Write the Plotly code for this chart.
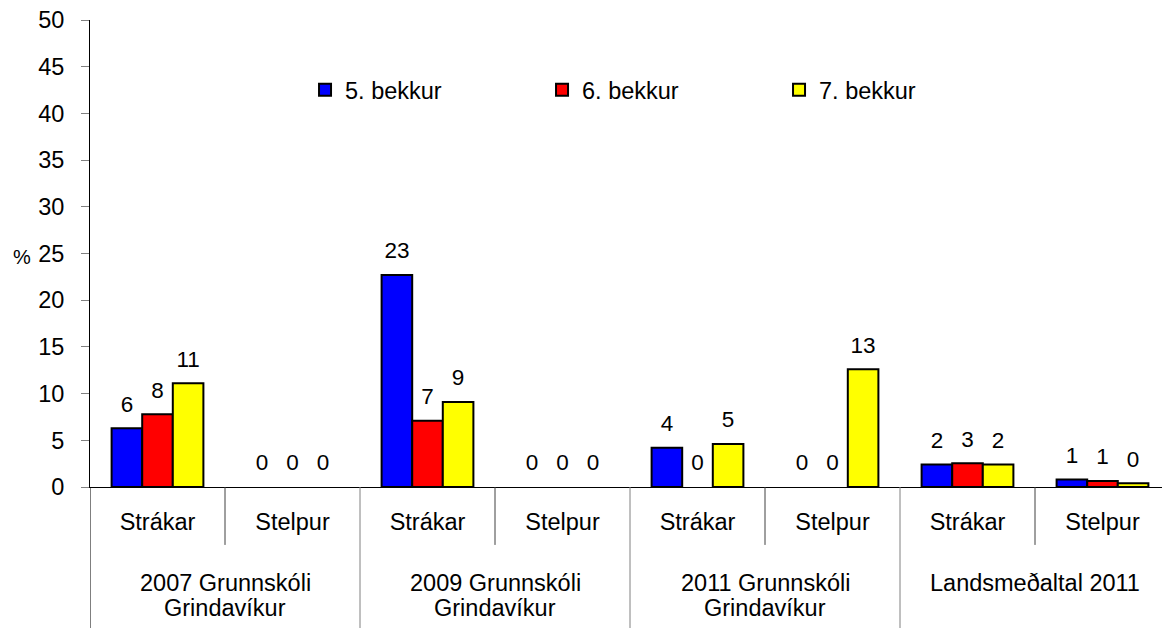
import plotly.graph_objects as go

# hierarchical categories: group -> (Strákar, Stelpur)
group_line1 = ["2007 Grunnskóli", "2009 Grunnskóli", "2011 Grunnskóli", "Landsmeðaltal 2011"]
group_line2 = ["Grindavíkur", "Grindavíkur", "Grindavíkur", ""]
sub_labels = ["Strákar", "Stelpur"] * 4

bekkur_5 = [6.3, 0, 22.7, 0, 4.2, 0, 2.4, 0.8]
bekkur_6 = [7.8, 0, 7.1, 0, 0, 0, 2.55, 0.65]
bekkur_7 = [11.1, 0, 9.1, 0, 4.6, 12.6, 2.4, 0.4]

series = [("5. bekkur", bekkur_5, "#0000FF"),
          ("6. bekkur", bekkur_6, "#FF0000"),
          ("7. bekkur", bekkur_7, "#FFFF00")]

FONT = "Liberation Sans, Arial, sans-serif"
x = list(range(len(sub_labels)))

fig = go.Figure()
for i, (name, vals, color) in enumerate(series):
    # zero bars are not drawn at all (no outline on the axis)
    fig.add_trace(go.Bar(
        x=x, y=[v if v > 0 else None for v in vals], name=name, offsetgroup=str(i),
        marker=dict(color=color, line=dict(color="black", width=2)),
    ))
    # value labels, grouped like the bars, lifted a bit above the bar top
    fig.add_trace(go.Scatter(
        x=x, y=vals, mode="markers+text", offsetgroup=str(i),
        text=[str(int(v + 0.5)) for v in vals],
        textposition="top center",
        textfont=dict(size=22.5, color="black", family=FONT),
        marker=dict(size=16, opacity=0),
        showlegend=False, hoverinfo="skip", cliponaxis=False,
    ))

shapes = []
# left axis line continues down through the label area
shapes.append(dict(type="line", xref="x", yref="paper", x0=-0.5, x1=-0.5,
                   y0=0, y1=-0.31, line=dict(color="black", width=1)))
for k in range(1, len(sub_labels)):
    if k % 2 == 0:
        shapes.append(dict(type="line", xref="x", yref="paper", x0=k - 0.5, x1=k - 0.5,
                           y0=0, y1=-0.31, line=dict(color="#808080", width=1)))
    else:
        shapes.append(dict(type="line", xref="x", yref="paper", x0=k - 0.5, x1=k - 0.5,
                           y0=0, y1=-0.124, line=dict(color="#404040", width=1)))

annotations = []
for g in range(len(group_line1)):
    for text, yy in ((group_line1[g], -0.205), (group_line2[g], -0.259)):
        if text:
            annotations.append(dict(x=2 * g + 0.5, y=yy, xref="x", yref="paper",
                                    text=text, showarrow=False, yanchor="middle",
                                    font=dict(size=23.5, color="black", family=FONT)))
annotations.append(dict(x=-0.063, y=0.4925, xref="paper", yref="paper", text="%",
                        xanchor="center", yanchor="middle", showarrow=False,
                        font=dict(size=20, color="black", family=FONT)))

# the page adds an 8px body margin, so the figure is a bit smaller than the window
fig.update_layout(
    width=1162, height=620,
    margin=dict(l=82, r=0, t=12, b=141, autoexpand=False),
    paper_bgcolor="white", plot_bgcolor="white",
    barmode="group", bargap=0.32, bargroupgap=0,
    scattermode="group", scattergap=0.32,
    font=dict(family=FONT, size=23.5, color="black"),
    showlegend=True,
    legend=dict(orientation="h", x=0.1991, y=0.85, xanchor="left", yanchor="middle",
                entrywidth=192, entrywidthmode="pixels", itemwidth=30,
                bgcolor="rgba(0,0,0,0)", font=dict(size=23.5, family=FONT),
                traceorder="normal"),
    shapes=shapes, annotations=annotations,
)
fig.update_xaxes(range=[-0.5, 7.5], tickvals=x, ticktext=sub_labels, automargin=False,
                 showline=True, linecolor="black", linewidth=1, ticks="",
                 ticklabelstandoff=14, showgrid=False, zeroline=False,
                 tickfont=dict(size=23.5, family=FONT))
fig.update_yaxes(range=[0, 50], dtick=5, showline=True, linecolor="black", linewidth=1,
                 automargin=False, ticks="outside", ticklen=8, tickcolor="#808080",
                 ticklabelstandoff=12, ticklabeloverflow="allow",
                 showgrid=False, zeroline=False,
                 tickfont=dict(size=23.5, family=FONT))

fig.write_html("out.html")
